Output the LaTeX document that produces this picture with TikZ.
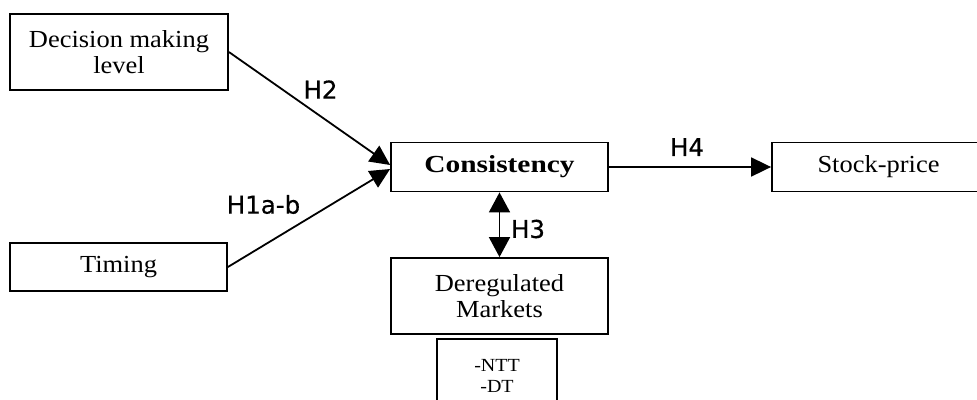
\documentclass[tikz,border=0pt]{standalone}
\usepackage{fontspec}
\setmainfont{Liberation Serif}[FakeStretch=1.08,BoldFeatures={FakeStretch=1.2}]
\newfontfamily\labelfont{DejaVu Sans}[FakeBold=0.6]
\usetikzlibrary{arrows.meta}
\begin{document}
\begin{tikzpicture}[x=1pt,y=-1pt,
  box/.style={draw,line width=1.8pt,rectangle,inner sep=0pt,align=center,
    font=\fontsize{24.5}{26.5}\selectfont},
  link/.style={line width=1.8pt,-{Triangle[length=20pt,width=19pt]}},
  hyp/.style={font=\labelfont\fontsize{24.5}{26}\selectfont,inner sep=0pt}]
  \useasboundingbox (0,0) rectangle (977,399);

  % construct boxes
  \node[box,minimum width=218pt,minimum height=76pt] (dec) at (119,52) {Decision making\\level};
  \node[box,minimum width=217pt,minimum height=48pt] (tim) at (118.5,267) {Timing};
  \node[box,minimum width=217pt,minimum height=49pt] (con) at (499.5,167) {\textbf{Consistency}};
  \node[box,minimum width=213pt,minimum height=49pt] (stk) at (878.5,167) {Stock-price};
  \node[box,minimum width=217pt,minimum height=76pt] (der) at (499.5,296) {Deregulated\\Markets};
  \node[box,minimum width=120pt,minimum height=73pt,
    font=\fontsize{18.5}{21}\selectfont] (sub) at (497,375.5) {-NTT\\-DT};

  % hypothesised effects
  \draw[link] (dec.east) -- ([yshift=2pt]con.west);
  \draw[link] (tim.east) -- ([yshift=-2pt]con.west);
  \draw[link] (con.east) -- (stk.west);
  \draw[line width=1.8pt,{Triangle[length=20pt,width=21pt]}-{Triangle[length=20pt,width=21pt]}] (con.south) -- (der.north);

  % hypothesis labels
  \node[hyp] (h2) at (320.5,89.5) {H2};
  \node[hyp] (h1) at (263.5,204.5) {H1a-b};
  \node[hyp] (h4) at (687,147) {H4};
  \node[hyp] (h3) at (528,229) {H3};
\end{tikzpicture}
\end{document}
